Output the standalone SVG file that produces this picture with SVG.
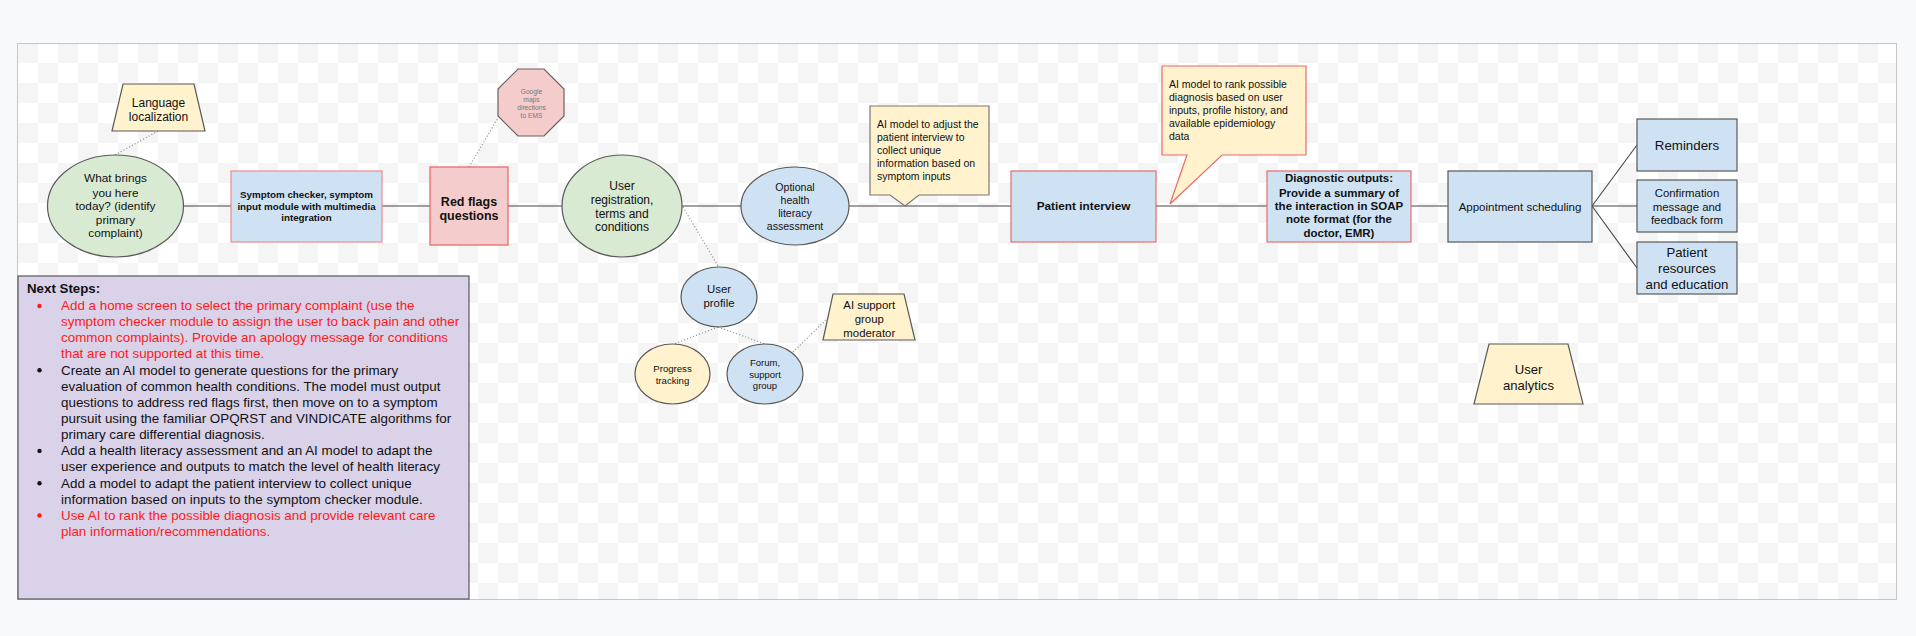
<svg xmlns="http://www.w3.org/2000/svg" width="1916" height="636" viewBox="0 0 1916 636">
<defs>
<pattern id="checker" patternUnits="userSpaceOnUse" x="18" y="43" width="40" height="40">
<rect width="40" height="40" fill="#ffffff"/>
<rect width="20" height="20" fill="#f5f5f5"/>
<rect x="20" y="20" width="20" height="20" fill="#f5f5f5"/>
</pattern>
<style>
text{font-family:"Liberation Sans",Arial,sans-serif;fill:#111;text-anchor:middle}
.b{font-weight:bold}
.l{text-anchor:start}
.green{fill:#d9ead3;stroke:#595959;stroke-width:1.2}
.blue{fill:#cfe2f3;stroke:#595959;stroke-width:1.2}
.blueR{fill:#cfe2f3;stroke:#ea6b6b;stroke-width:1.2}
.yellow{fill:#fff2cc;stroke:#595959;stroke-width:1.2}
.pink{fill:#f4cccc;stroke:#ea5f5f;stroke-width:1.2}
.line{stroke:#444;stroke-width:1.1;fill:none}
.dot{stroke:#999;stroke-width:1.2;stroke-dasharray:1.2 2;fill:none}
.red{fill:#ff1a1a}
</style>
</defs>
<rect width="1916" height="636" fill="#f8f9fa"/>
<rect x="17.5" y="43.5" width="1879" height="556" fill="url(#checker)" stroke="#c6c6c6" stroke-width="1"/>

<g id="connectors">
<line class="line" x1="183" y1="206" x2="231" y2="206"/>
<line class="line" x1="382" y1="206" x2="430" y2="206"/>
<line class="line" x1="508" y1="206" x2="562" y2="206"/>
<line class="line" x1="682" y1="206" x2="741" y2="206"/>
<line class="line" x1="849" y1="206" x2="1011" y2="206"/>
<line class="line" x1="1156" y1="206" x2="1267" y2="206"/>
<line class="line" x1="1411" y1="206" x2="1448" y2="206"/>
<line class="line" x1="1592" y1="206" x2="1637" y2="145"/>
<line class="line" x1="1592" y1="206" x2="1637" y2="206"/>
<line class="line" x1="1592" y1="206" x2="1637" y2="268"/>
<line class="dot" x1="158" y1="131" x2="115" y2="155"/>
<line class="dot" x1="469" y1="167" x2="498" y2="118"/>
<line class="dot" x1="683" y1="207" x2="718" y2="266"/>
<line class="dot" x1="718" y1="327" x2="674" y2="344"/>
<line class="dot" x1="718" y1="327" x2="765" y2="344"/>
<line class="dot" x1="793" y1="352" x2="828" y2="318"/>
</g>

<g id="language-localization">
<polygon class="yellow" points="123,84 194,84 205,131 112,131"/>
<text x="158.5" y="106.9" font-size="12">Language</text>
<text x="158.5" y="120.9" font-size="12">localization</text>
</g>

<g id="what-brings">
<ellipse class="green" cx="115.5" cy="206" rx="68" ry="51"/>
<text x="115.5" y="182.4" font-size="11.8">What brings</text>
<text x="115.5" y="196.8" font-size="11.8">you here</text>
<text x="115.5" y="210.4" font-size="11.8">today? (identify</text>
<text x="115.5" y="224.1" font-size="11.8">primary</text>
<text x="115.5" y="237.4" font-size="11.8">complaint)</text>
</g>

<g id="symptom-checker">
<rect x="231" y="171" width="151" height="71" fill="#cfe2f3" stroke="#f08a8a" stroke-width="1.2"/>
<text class="b" x="306.5" y="198.4" font-size="9.8">Symptom checker, symptom</text>
<text class="b" x="306.5" y="209.7" font-size="9.8">input module with multimedia</text>
<text class="b" x="306.5" y="221.1" font-size="9.8">integration</text>
</g>

<g id="red-flags">
<rect class="pink" x="430" y="167" width="78" height="78"/>
<text class="b" x="469" y="206.1" font-size="12.5">Red flags</text>
<text class="b" x="469" y="219.7" font-size="12.5">questions</text>
</g>

<g id="google-maps">
<polygon points="518,69 544,69 564,89 564,116 544,136 518,136 498,116 498,89" fill="#f4cccc" stroke="#6f5f5f" stroke-width="1.2"/>
<text x="531.5" y="94" font-size="6.7" style="fill:#777">Google</text>
<text x="531.5" y="101.6" font-size="6.7" style="fill:#777">maps</text>
<text x="531.5" y="109.6" font-size="6.7" style="fill:#777">directions</text>
<text x="531.5" y="117.6" font-size="6.7" style="fill:#777">to EMS</text>
</g>

<g id="user-registration">
<ellipse class="green" cx="622" cy="206" rx="60" ry="51"/>
<text x="622" y="190.2" font-size="12">User</text>
<text x="622" y="204.2" font-size="12">registration,</text>
<text x="622" y="217.9" font-size="12">terms and</text>
<text x="622" y="230.5" font-size="12">conditions</text>
</g>

<g id="health-literacy">
<ellipse class="blue" cx="795" cy="206" rx="54" ry="39"/>
<text x="795" y="191" font-size="10.6">Optional</text>
<text x="795" y="204" font-size="10.6">health</text>
<text x="795" y="217" font-size="10.6">literacy</text>
<text x="795" y="229.7" font-size="10.6">assessment</text>
</g>

<g id="user-profile">
<ellipse class="blue" cx="719" cy="297" rx="38" ry="30"/>
<text x="719" y="293.3" font-size="11.4">User</text>
<text x="719" y="307.3" font-size="11.4">profile</text>
</g>

<g id="progress-tracking">
<ellipse class="yellow" cx="672.5" cy="374" rx="37.5" ry="30"/>
<text x="672.5" y="372.1" font-size="9.6">Progress</text>
<text x="672.5" y="384.1" font-size="9.6">tracking</text>
</g>

<g id="forum">
<ellipse class="blue" cx="765" cy="374" rx="38" ry="30"/>
<text x="765" y="366" font-size="9.5">Forum,</text>
<text x="765" y="378" font-size="9.5">support</text>
<text x="765" y="389" font-size="9.5">group</text>
</g>

<g id="ai-support-moderator">
<polygon class="yellow" points="833,294 904,294 915,340 823,340"/>
<text x="869.3" y="309" font-size="11.4">AI support</text>
<text x="869.3" y="323" font-size="11.4">group</text>
<text x="869.3" y="336.7" font-size="11.4">moderator</text>
</g>

<g id="callout-interview">
<path d="M870,106 H989 V195 H919 L905,206 L890,195 H870 Z" fill="#fff2cc" stroke="#777" stroke-width="1.2"/>
<text class="l" x="877" y="127.7" font-size="10.5">AI model to adjust the</text>
<text class="l" x="877" y="140.7" font-size="10.5">patient interview to</text>
<text class="l" x="877" y="153.7" font-size="10.5">collect unique</text>
<text class="l" x="877" y="166.7" font-size="10.5">information based on</text>
<text class="l" x="877" y="179.7" font-size="10.5">symptom inputs</text>
</g>

<g id="patient-interview">
<rect class="blueR" x="1011" y="171" width="145" height="71"/>
<text class="b" x="1083.5" y="210.1" font-size="11.8">Patient interview</text>
</g>

<g id="callout-diagnosis">
<path d="M1162,66 H1306 V155 H1222 L1170,204 L1187,155 H1162 Z" fill="#fff2cc" stroke="#ea6b6b" stroke-width="1.2"/>
<text class="l" x="1169" y="88" font-size="10.5">AI model to rank possible</text>
<text class="l" x="1169" y="101" font-size="10.5">diagnosis based on user</text>
<text class="l" x="1169" y="114" font-size="10.5">inputs, profile history, and</text>
<text class="l" x="1169" y="127" font-size="10.5">available epidemiology</text>
<text class="l" x="1169" y="140" font-size="10.5">data</text>
</g>

<g id="diagnostic-outputs">
<rect class="blueR" x="1267" y="171" width="144" height="71"/>
<text class="b" x="1339" y="182.3" font-size="11.5">Diagnostic outputs:</text>
<text class="b" x="1339" y="196.7" font-size="11.5">Provide a summary of</text>
<text class="b" x="1339" y="210" font-size="11.5">the interaction in SOAP</text>
<text class="b" x="1339" y="223.3" font-size="11.5">note format (for the</text>
<text class="b" x="1339" y="236.7" font-size="11.5">doctor, EMR)</text>
</g>

<g id="appointment-scheduling">
<rect class="blue" x="1448" y="171" width="144" height="71"/>
<text x="1520" y="210.7" font-size="11.5">Appointment scheduling</text>
</g>

<g id="reminders">
<rect class="blue" x="1637" y="119" width="100" height="52"/>
<text x="1687" y="150" font-size="13.3">Reminders</text>
</g>

<g id="confirmation">
<rect class="blue" x="1637" y="180" width="100" height="52"/>
<text x="1687" y="196.7" font-size="11.4">Confirmation</text>
<text x="1687" y="210.7" font-size="11.4">message and</text>
<text x="1687" y="224" font-size="11.4">feedback form</text>
</g>

<g id="patient-resources">
<rect class="blue" x="1637" y="242" width="100" height="52"/>
<text x="1687" y="256.9" font-size="13.2">Patient</text>
<text x="1687" y="273.3" font-size="13.2">resources</text>
<text x="1687" y="288.9" font-size="13.2">and education</text>
</g>

<g id="user-analytics">
<polygon class="yellow" points="1489,344 1568,344 1583,404 1474,404"/>
<text x="1528.5" y="373.9" font-size="13.1">User</text>
<text x="1528.5" y="390.3" font-size="13.1">analytics</text>
</g>

<g id="next-steps">
<rect x="18" y="276" width="451" height="323" fill="#d9d2e9" stroke="#595959" stroke-width="1.2"/>
<text class="b l" x="27" y="293" font-size="13.3">Next Steps:</text>
<g font-size="13.4">
<circle class="red" cx="39.5" cy="306" r="2.2"/>
<text class="l" x="61" y="310" style="fill:#ff1a1a">Add a home screen to select the primary complaint (use the</text>
<text class="l" x="61" y="326.1" style="fill:#ff1a1a">symptom checker module to assign the user to back pain and other</text>
<text class="l" x="61" y="342.3" style="fill:#ff1a1a">common complaints). Provide an apology message for conditions</text>
<text class="l" x="61" y="358.4" style="fill:#ff1a1a">that are not supported at this time.</text>
<circle cx="39.5" cy="370.3" r="2.2" fill="#111"/>
<text class="l" x="61" y="374.6">Create an AI model to generate questions for the primary</text>
<text class="l" x="61" y="390.7">evaluation of common health conditions. The model must output</text>
<text class="l" x="61" y="406.8">questions to address red flags first, then move on to a symptom</text>
<text class="l" x="61" y="423">pursuit using the familiar OPQRST and VINDICATE algorithms for</text>
<text class="l" x="61" y="439.1">primary care differential diagnosis.</text>
<circle cx="39.5" cy="450.9" r="2.2" fill="#111"/>
<text class="l" x="61" y="455.2">Add a health literacy assessment and an AI model to adapt the</text>
<text class="l" x="61" y="471.4">user experience and outputs to match the level of health literacy</text>
<circle cx="39.5" cy="483.2" r="2.2" fill="#111"/>
<text class="l" x="61" y="487.5">Add a model to adapt the patient interview to collect unique</text>
<text class="l" x="61" y="503.6">information based on inputs to the symptom checker module.</text>
<circle class="red" cx="39.5" cy="515.5" r="2.2"/>
<text class="l" x="61" y="519.8" style="fill:#ff1a1a">Use AI to rank the possible diagnosis and provide relevant care</text>
<text class="l" x="61" y="535.9" style="fill:#ff1a1a">plan information/recommendations.</text>
</g>
</g>
</svg>
